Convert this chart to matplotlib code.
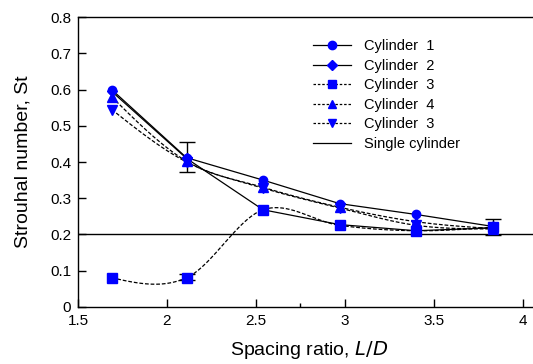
import numpy as np
import matplotlib.pyplot as plt

plt.rcParams['font.family'] = ['Liberation Sans', 'DejaVu Sans']

# spacing ratio L/D
spacing = [1.69, 2.11, 2.54, 2.97, 3.40, 3.83]

cyl1 = [0.600, 0.412, 0.350, 0.285, 0.255, 0.222]
cyl2 = [0.595, 0.410, 0.268, 0.227, 0.210, 0.218]
cyl3 = [0.080, 0.080, 0.268, 0.225, 0.210, 0.220]
cyl4 = [0.580, 0.402, 0.330, 0.275, 0.235, 0.216]
cyl3b = [0.545, 0.400, 0.328, 0.273, 0.225, 0.215]

single_st = 0.2

# error bars
err_x = [2.11, 2.11, 3.83]
err_y = [0.414, 0.082, 0.221]
err_e = [0.041, 0.008, 0.022]


def smooth(x, y, n=40):
    # cardinal (Catmull-Rom style) curve through the points, only for drawing
    x = np.asarray(x, float)
    y = np.asarray(y, float)
    m = len(x)
    t = np.zeros(m)
    for i in range(1, m - 1):
        t[i] = (y[i + 1] - y[i - 1]) / (x[i + 1] - x[i - 1])
    t[0] = (3 * (y[1] - y[0]) / (x[1] - x[0]) - t[1]) / 2
    t[-1] = (3 * (y[-1] - y[-2]) / (x[-1] - x[-2]) - t[-2]) / 2
    xs, ys = [], []
    for i in range(m - 1):
        h = x[i + 1] - x[i]
        s = np.linspace(0, 1, n)
        h00 = 2 * s**3 - 3 * s**2 + 1
        h10 = s**3 - 2 * s**2 + s
        h01 = -2 * s**3 + 3 * s**2
        h11 = s**3 - s**2
        xs.append(x[i] + s * h)
        ys.append(h00 * y[i] + h10 * h * t[i] + h01 * y[i + 1] + h11 * h * t[i + 1])
    return np.concatenate(xs), np.concatenate(ys)


fig = plt.figure(figsize=(5.33, 3.64), dpi=100)
ax = fig.add_axes([0.1463, 0.1574, 0.868, 0.795])

blue = '#0000ff'
lw = 0.9

ax.axhline(single_st, color='black', lw=1.0, zorder=1)

# solid series, straight segments
ax.plot(spacing, cyl1, '-', color='black', lw=lw, zorder=2)
ax.plot(spacing, cyl2, '-', color='black', lw=lw, zorder=2)
# dashed series, smoothed
for ys in (cyl3, cyl4, cyl3b):
    sx, sy = smooth(spacing, ys)
    ax.plot(sx, sy, '--', color='black', lw=lw, dashes=(3, 1.5), zorder=2)

ax.errorbar(err_x, err_y, yerr=err_e, fmt='none', ecolor='black',
            elinewidth=1.0, capsize=6, capthick=1.0, zorder=3)

ax.plot(spacing, cyl1, 'o', color=blue, ms=6, zorder=4)
ax.plot(spacing, cyl2, 'D', color=blue, ms=5, zorder=4)
ax.plot(spacing, cyl3, 's', color=blue, ms=7, zorder=4)
ax.plot(spacing, cyl4, '^', color=blue, ms=6.5, zorder=4)
ax.plot(spacing, cyl3b, 'v', color=blue, ms=6.5, zorder=4)

# legend proxies
h1, = ax.plot([], [], '-', color='black', lw=lw, marker='o', mfc=blue, mec=blue, ms=6)
h2, = ax.plot([], [], '-', color='black', lw=lw, marker='D', mfc=blue, mec=blue, ms=5)
h3, = ax.plot([], [], '--', color='black', lw=lw, dashes=(2, 1.5), marker='s', mfc=blue, mec=blue, ms=6)
h4, = ax.plot([], [], '--', color='black', lw=lw, dashes=(2, 1.5), marker='^', mfc=blue, mec=blue, ms=6)
h5, = ax.plot([], [], '--', color='black', lw=lw, dashes=(2, 1.5), marker='v', mfc=blue, mec=blue, ms=6)
h6, = ax.plot([], [], '-', color='black', lw=lw)
ax.legend([h1, h2, h3, h4, h5, h6],
          ['Cylinder  1', 'Cylinder  2', 'Cylinder  3', 'Cylinder  4',
           'Cylinder  3', 'Single cylinder'],
          loc='upper left', bbox_to_anchor=(0.495, 0.945), frameon=False,
          fontsize=10.5, handlelength=2.6, handletextpad=0.9, labelspacing=0.38,
          borderaxespad=0)

ax.set_xlim(1.5, 4.1)
ax.set_ylim(0, 0.8)
ax.set_xticks([1.5, 2, 2.5, 3, 3.5, 4])
ax.set_xticklabels(['1.5', '2', '2.5', '3', '3.5', '4'])
ax.set_xticks([2.75], minor=True)
ax.set_yticks(np.arange(0, 0.81, 0.1))
ax.set_yticklabels(['0', '0.1', '0.2', '0.3', '0.4', '0.5', '0.6', '0.7', '0.8'])
ax.tick_params(direction='in', length=6, width=1, labelsize=11, pad=5)
ax.tick_params(which='minor', direction='in', length=3, width=1)
ax.spines['right'].set_visible(False)
for s in ('left', 'bottom', 'top'):
    ax.spines[s].set_linewidth(1.0)

ax.set_xlabel('Spacing ratio, $\\mathit{L/D}$', fontsize=14, labelpad=8)
ax.set_ylabel('Strouhal number, St', fontsize=14, labelpad=13)

fig.savefig('out.png', dpi=100)
